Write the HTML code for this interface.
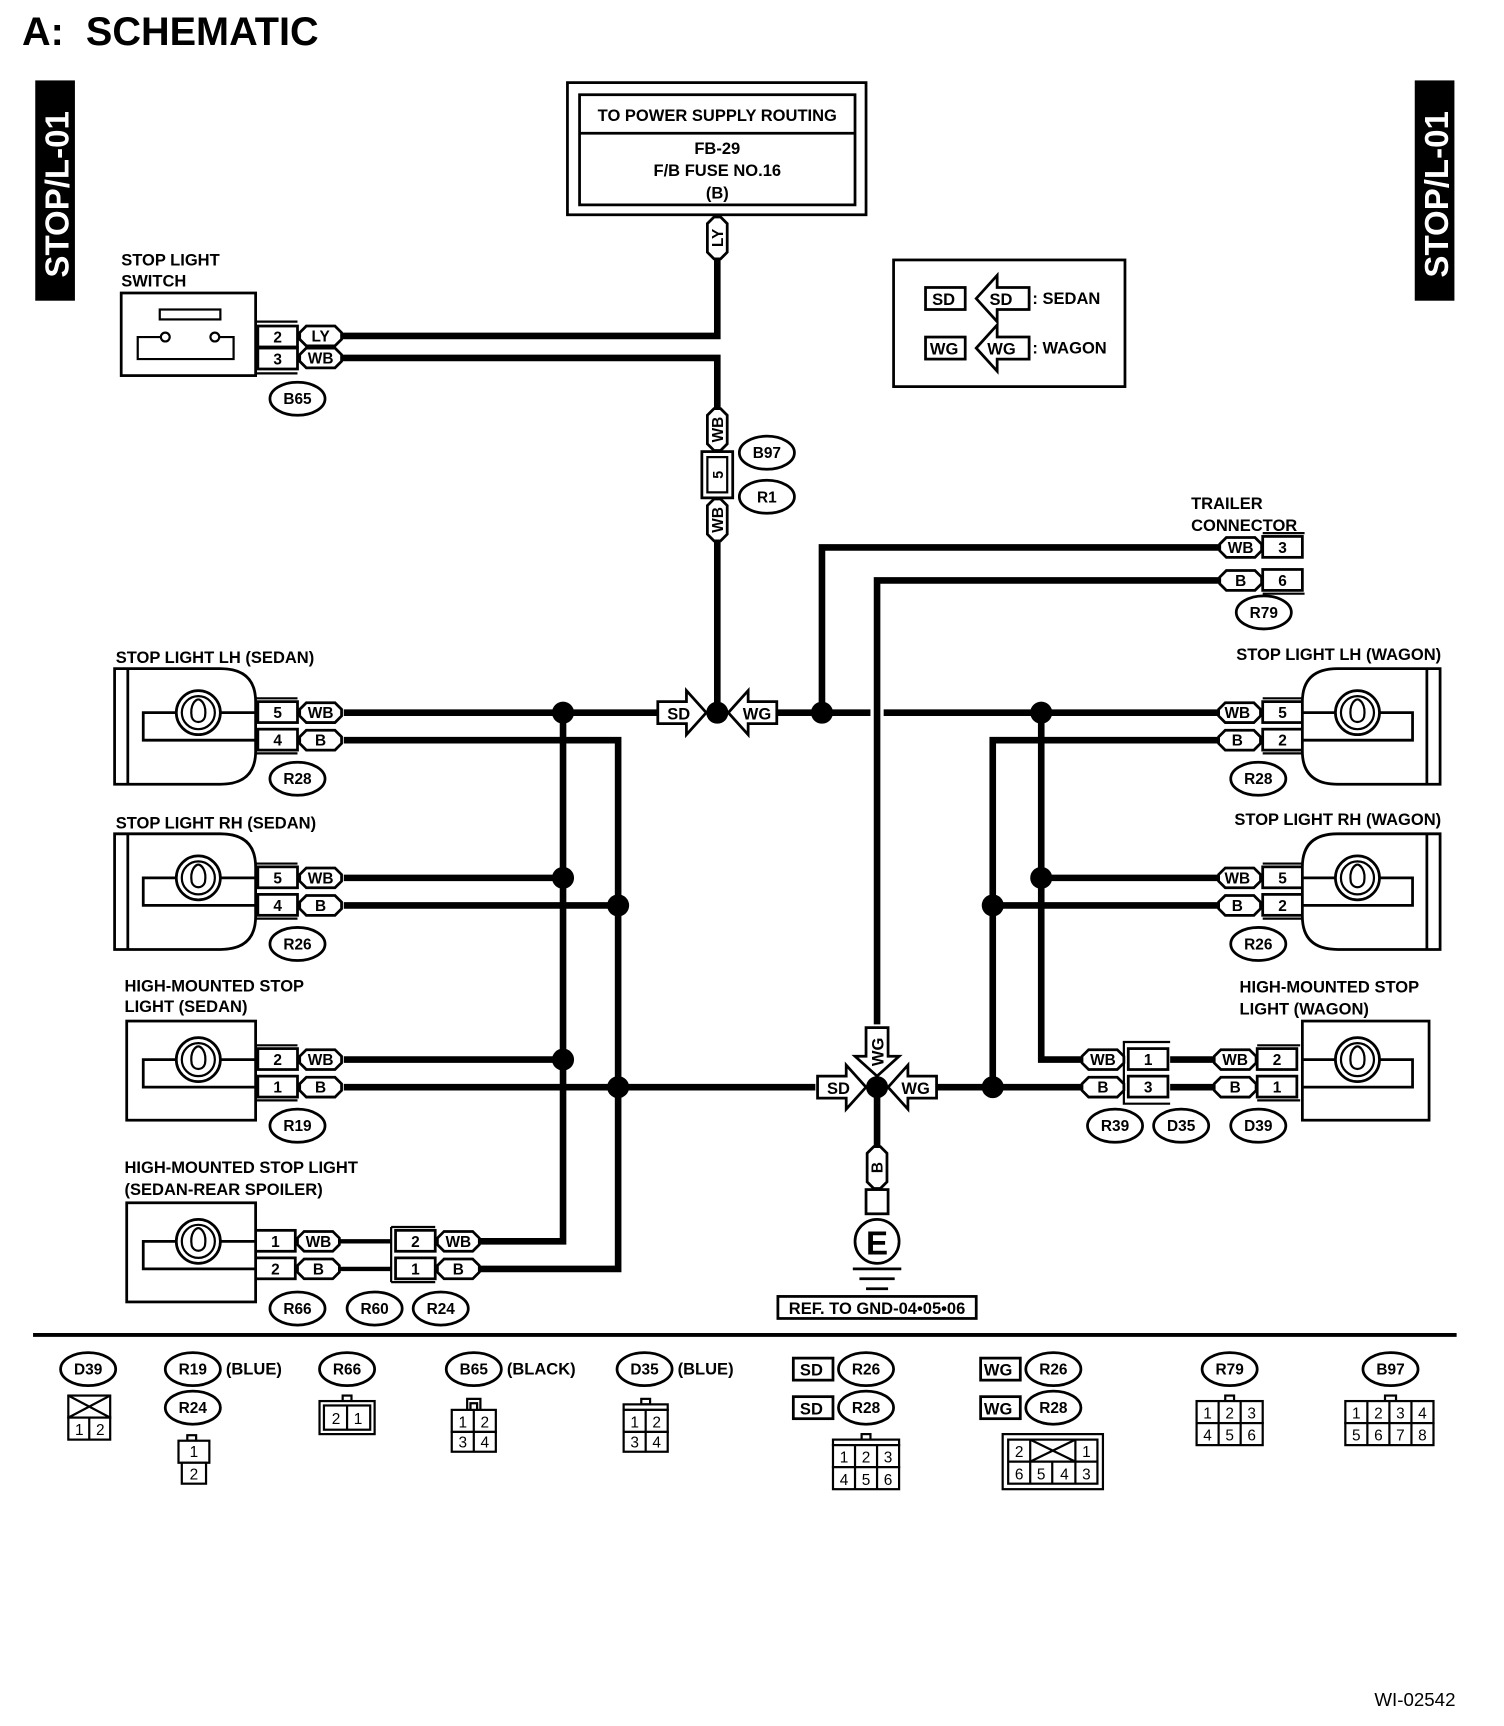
<!DOCTYPE html>
<html><head><meta charset="utf-8"><style>
html,body{margin:0;padding:0;background:#fff}
svg{display:block}
text{font-family:"Liberation Sans",sans-serif;font-weight:bold;fill:#000}
</style></head><body>
<svg width="1504" height="1726" viewBox="0 0 1365 1567" preserveAspectRatio="none" xmlns="http://www.w3.org/2000/svg">
<defs>
<path id="arR" d="M0,0 L-18,-20 L-18,-10 L-44,-10 L-44,10 L-18,10 L-18,20 Z" fill="#fff" stroke="#000" stroke-width="2.5"/>
<path id="pill" d="M-13,-9 L13,-9 L19,-3 L19,3 L13,9 L-13,9 L-19,3 L-19,-3 Z" fill="#fff" stroke="#000" stroke-width="2.5"/>
<ellipse id="ov" rx="25" ry="15" fill="#fff" stroke="#000" stroke-width="2.5"/>
<g id="bulb"><circle r="20" fill="#fff" stroke="#000" stroke-width="2.5"/><circle r="15" fill="none" stroke="#000" stroke-width="2"/><path d="M-6,4 C-8,-8 -2,-12 0,-12 C2,-12 8,-8 6,4 M-6,4 C-4,10 4,10 6,4" fill="none" stroke="#000" stroke-width="2"/></g>
</defs>

<text x="20" y="41" font-size="36" style="white-space:pre" xml:space="preserve">A:  SCHEMATIC</text>
<rect x="32" y="73" width="36" height="200" fill="#000"/>
<text transform="translate(62,252) rotate(-90)" font-size="30" style="fill:#fff">STOP/L-01</text>
<rect x="1284" y="73" width="36" height="200" fill="#000"/>
<text transform="translate(1314,252) rotate(-90)" font-size="30" style="fill:#fff">STOP/L-01</text>

<rect x="515" y="75" width="271" height="120" fill="none" stroke="#000" stroke-width="2.5"/>
<rect x="526" y="86" width="250" height="100" fill="none" stroke="#000" stroke-width="2.5"/>
<line x1="526" y1="121" x2="776" y2="121" stroke="#000" stroke-width="2.5"/>
<g font-size="15" text-anchor="middle">
<text x="651" y="110">TO POWER SUPPLY ROUTING</text>
<text x="651" y="140">FB-29</text>
<text x="651" y="160">F/B FUSE NO.16</text>
<text x="651" y="180">(B)</text>
</g>

<g stroke="#000" stroke-width="6" fill="none">
<path d="M651,235 V305 H310"/>
<path d="M310,325 H651 V372"/>
<path d="M651,490 V647"/>
<path d="M312,647 H597"/>
<path d="M706,647 H790"/>
<path d="M802,647 H1106"/>
<path d="M746,647 V497 H1106"/>
<path d="M796,930 V527 H1106"/>
<path d="M312,672 H561 V1152 H436"/>
<path d="M511,647 V1127 H436"/>
<path d="M312,797 H511"/>
<path d="M312,822 H561"/>
<path d="M312,962 H511"/>
<path d="M312,987 H740"/>
<path d="M850,987 H982"/>
<path d="M1106,672 H901 V987"/>
<path d="M901,822 H1106"/>
<path d="M1106,797 H945"/>
<path d="M945,647 V962 H982"/>
<path d="M1062,962 H1102"/>
<path d="M1062,987 H1102"/>
<path d="M796,987 V1042"/>
<path d="M308,1127 H355 M308,1152 H355" stroke-width="4"/>
</g>
<g fill="#000">
<circle cx="651" cy="647" r="10"/><circle cx="746" cy="647" r="10"/>
<circle cx="511" cy="647" r="10"/><circle cx="511" cy="797" r="10"/><circle cx="511" cy="962" r="10"/>
<circle cx="561" cy="822" r="10"/><circle cx="561" cy="987" r="10"/>
<circle cx="796" cy="987" r="10"/><circle cx="901" cy="987" r="10"/><circle cx="901" cy="822" r="10"/>
<circle cx="945" cy="647" r="10"/><circle cx="945" cy="797" r="10"/>
</g>

<use href="#arR" transform="translate(641,647)"/>
<use href="#arR" transform="translate(661,647) rotate(180)"/>
<use href="#arR" transform="translate(786,987)"/>
<use href="#arR" transform="translate(806,987) rotate(180)"/>
<use href="#arR" transform="translate(796,977) rotate(90)"/>
<g font-size="15" text-anchor="middle">
<text x="616" y="653">SD</text><text x="687" y="653">WG</text>
<text x="761" y="993">SD</text><text x="831" y="993">WG</text>
<text transform="translate(802,955) rotate(-90)" text-anchor="middle">WG</text>
</g>

<g font-size="14" text-anchor="middle">
<use href="#pill" transform="translate(651,216) rotate(90)"/><text transform="translate(656,216) rotate(-90)">LY</text>
<use href="#pill" transform="translate(651,390) rotate(90)"/><text transform="translate(656,390) rotate(-90)">WB</text>
<use href="#pill" transform="translate(651,472) rotate(90)"/><text transform="translate(656,472) rotate(-90)">WB</text>
<use href="#pill" transform="translate(796,1060) rotate(90)"/><text transform="translate(801,1060) rotate(-90)">B</text>
</g>
<rect x="637" y="410" width="28" height="42" fill="#fff" stroke="#000" stroke-width="2.5"/>
<rect x="642" y="415" width="18" height="32" fill="none" stroke="#000" stroke-width="2"/>
<text transform="translate(656,431) rotate(-90)" font-size="13" text-anchor="middle">5</text>

<rect x="786" y="1080" width="20" height="22" fill="#fff" stroke="#000" stroke-width="2.5"/>
<circle cx="796" cy="1127" r="20" fill="#fff" stroke="#000" stroke-width="2.5"/>
<text x="796" y="1139" font-size="30" text-anchor="middle">E</text>
<g stroke="#000" stroke-width="2.5"><line x1="774" y1="1152" x2="818" y2="1152"/><line x1="780" y1="1161" x2="812" y2="1161"/><line x1="786" y1="1170" x2="806" y2="1170"/></g>
<rect x="706" y="1177" width="180" height="20" fill="#fff" stroke="#000" stroke-width="2.5"/>
<text x="796" y="1193" font-size="15" text-anchor="middle">REF. TO GND-04•05•06</text>

<rect x="811" y="236" width="210" height="115" fill="none" stroke="#000" stroke-width="2.5"/>
<g stroke="#000" stroke-width="2.5" fill="#fff">
<rect x="840" y="261" width="36" height="20"/><rect x="840" y="306" width="36" height="20"/>
<path d="M886,271 L905,250 L905,261 L934,261 L934,281 L905,281 L905,292 Z"/>
<path d="M886,316 L905,295 L905,306 L934,306 L934,326 L905,326 L905,337 Z"/>
</g>
<g font-size="15"><text x="846" y="277">SD</text><text x="898" y="277">SD</text><text x="937" y="276">: SEDAN</text>
<text x="844" y="322">WG</text><text x="896" y="322">WG</text><text x="937" y="321">: WAGON</text></g>

<g font-size="15"><text x="110" y="241">STOP LIGHT</text><text x="110" y="260">SWITCH</text></g>
<rect x="110" y="266" width="122" height="75" fill="#fff" stroke="#000" stroke-width="2.5"/>
<rect x="145" y="281" width="55" height="9" fill="none" stroke="#000" stroke-width="2"/>
<path d="M146,306 H125 V326 H212 V306 H199" fill="none" stroke="#000" stroke-width="2"/>
<circle cx="150" cy="306" r="4" fill="#fff" stroke="#000" stroke-width="2"/>
<circle cx="195" cy="306" r="4" fill="#fff" stroke="#000" stroke-width="2"/>

<g stroke="#000" stroke-width="2.5" fill="#fff">
<rect x="234" y="296" width="36" height="19"/><rect x="234" y="316" width="36" height="19"/>
<rect x="234" y="637" width="36" height="19"/><rect x="234" y="662" width="36" height="19"/>
<rect x="234" y="787" width="36" height="19"/><rect x="234" y="812" width="36" height="19"/>
<rect x="234" y="952" width="36" height="19"/><rect x="234" y="977" width="36" height="19"/>
<rect x="232" y="1117" width="36" height="19"/><rect x="232" y="1142" width="36" height="19"/>
<rect x="359" y="1117" width="36" height="19"/><rect x="359" y="1142" width="36" height="19"/>
<rect x="1146" y="487" width="36" height="19"/><rect x="1146" y="517" width="36" height="19"/>
<rect x="1146" y="637" width="36" height="19"/><rect x="1146" y="662" width="36" height="19"/>
<rect x="1146" y="787" width="36" height="19"/><rect x="1146" y="812" width="36" height="19"/>
<rect x="1141" y="952" width="36" height="19"/><rect x="1141" y="977" width="36" height="19"/>
<rect x="1024" y="952" width="36" height="19"/><rect x="1024" y="977" width="36" height="19"/>
</g>
<g stroke="#000" stroke-width="2" fill="none">
<path d="M232,292 H270 M232,339 H270"/><path d="M232,634 H270 M232,684 H270"/><path d="M232,784 H270 M232,834 H270"/>
<path d="M232,949 H270 M232,999 H270"/><path d="M355,1114 H395 M355,1164 H395 M355,1114 V1164"/>
<path d="M1146,484 H1184 M1146,539 H1184"/><path d="M1146,634 H1184 M1146,684 H1184"/><path d="M1146,784 H1184 M1146,834 H1184"/>
<path d="M1141,949 H1180 M1141,999 H1180"/><path d="M1062,946 H1020 V1002 H1062"/>
</g>
<g font-size="14" text-anchor="middle">
<text x="252" y="311">2</text><text x="252" y="331">3</text>
<text x="252" y="652">5</text><text x="252" y="677">4</text>
<text x="252" y="802">5</text><text x="252" y="827">4</text>
<text x="252" y="967">2</text><text x="252" y="992">1</text>
<text x="250" y="1132">1</text><text x="250" y="1157">2</text>
<text x="377" y="1132">2</text><text x="377" y="1157">1</text>
<text x="1164" y="502">3</text><text x="1164" y="532">6</text>
<text x="1164" y="652">5</text><text x="1164" y="677">2</text>
<text x="1164" y="802">5</text><text x="1164" y="827">2</text>
<text x="1159" y="967">2</text><text x="1159" y="992">1</text>
<text x="1042" y="967">1</text><text x="1042" y="992">3</text>
</g>

<g font-size="14" text-anchor="middle">
<use href="#pill" x="291" y="305"/><text x="291" y="310">LY</text>
<use href="#pill" x="291" y="325"/><text x="291" y="330">WB</text>
<use href="#pill" x="291" y="647"/><text x="291" y="652">WB</text>
<use href="#pill" x="291" y="672"/><text x="291" y="677">B</text>
<use href="#pill" x="291" y="797"/><text x="291" y="802">WB</text>
<use href="#pill" x="291" y="822"/><text x="291" y="827">B</text>
<use href="#pill" x="291" y="962"/><text x="291" y="967">WB</text>
<use href="#pill" x="291" y="987"/><text x="291" y="992">B</text>
<use href="#pill" x="289" y="1127"/><text x="289" y="1132">WB</text>
<use href="#pill" x="289" y="1152"/><text x="289" y="1157">B</text>
<use href="#pill" x="416" y="1127"/><text x="416" y="1132">WB</text>
<use href="#pill" x="416" y="1152"/><text x="416" y="1157">B</text>
<use href="#pill" x="1126" y="497"/><text x="1126" y="502">WB</text>
<use href="#pill" x="1126" y="527"/><text x="1126" y="532">B</text>
<use href="#pill" x="1125" y="647"/><text x="1123" y="652">WB</text>
<use href="#pill" x="1125" y="672"/><text x="1123" y="677">B</text>
<use href="#pill" x="1125" y="797"/><text x="1123" y="802">WB</text>
<use href="#pill" x="1125" y="822"/><text x="1123" y="827">B</text>
<use href="#pill" x="1121" y="962"/><text x="1121" y="967">WB</text>
<use href="#pill" x="1121" y="987"/><text x="1121" y="992">B</text>
<use href="#pill" x="1001" y="962"/><text x="1001" y="967">WB</text>
<use href="#pill" x="1001" y="987"/><text x="1001" y="992">B</text>
</g>

<g stroke="#000" stroke-width="2.5" fill="#fff">
<path d="M104,607 H200 Q232,607 232,637 V682 Q232,712 200,712 H104 Z"/><line x1="116" y1="607" x2="116" y2="712"/>
<path d="M104,757 H200 Q232,757 232,787 V832 Q232,862 200,862 H104 Z"/><line x1="116" y1="757" x2="116" y2="862"/>
<rect x="115" y="927" width="117" height="90"/>
<rect x="115" y="1092" width="117" height="90"/>
<path d="M1307,607 H1214 Q1182,607 1182,637 V682 Q1182,712 1214,712 H1307 Z"/><line x1="1295" y1="607" x2="1295" y2="712"/>
<path d="M1307,757 H1214 Q1182,757 1182,787 V832 Q1182,862 1214,862 H1307 Z"/><line x1="1295" y1="757" x2="1295" y2="862"/>
<rect x="1182" y="927" width="115" height="90"/>
</g>
<g stroke="#000" stroke-width="2.5" fill="none">
<path d="M232,647 H130 V672 H232"/><path d="M232,797 H130 V822 H232"/><path d="M232,962 H130 V987 H232"/><path d="M232,1127 H130 V1152 H232"/>
<path d="M1182,647 H1282 V672 H1182"/><path d="M1182,797 H1282 V822 H1182"/><path d="M1182,962 H1282 V987 H1182"/>
</g>
<use href="#bulb" x="180" y="647"/><use href="#bulb" x="180" y="797"/><use href="#bulb" x="180" y="962"/><use href="#bulb" x="180" y="1127"/>
<use href="#bulb" x="1232" y="647"/><use href="#bulb" x="1232" y="797"/><use href="#bulb" x="1232" y="962"/>

<g font-size="15">
<text x="105" y="602">STOP LIGHT LH (SEDAN)</text>
<text x="105" y="752">STOP LIGHT RH (SEDAN)</text>
<text x="113" y="900">HIGH-MOUNTED STOP</text><text x="113" y="919">LIGHT (SEDAN)</text>
<text x="113" y="1065">HIGH-MOUNTED STOP LIGHT</text><text x="113" y="1085">(SEDAN-REAR SPOILER)</text>
<text x="1081" y="462">TRAILER</text><text x="1081" y="482">CONNECTOR</text>
<text x="1308" y="599" text-anchor="end">STOP LIGHT LH (WAGON)</text>
<text x="1308" y="749" text-anchor="end">STOP LIGHT RH (WAGON)</text>
<text x="1125" y="901">HIGH-MOUNTED STOP</text><text x="1125" y="921">LIGHT (WAGON)</text>
</g>

<g font-size="14" text-anchor="middle">
<use href="#ov" x="270" y="362"/><text x="270" y="367">B65</text>
<use href="#ov" x="696" y="411"/><text x="696" y="416">B97</text>
<use href="#ov" x="696" y="451"/><text x="696" y="456">R1</text>
<use href="#ov" x="1147" y="556"/><text x="1147" y="561">R79</text>
<use href="#ov" x="270" y="707"/><text x="270" y="712">R28</text>
<use href="#ov" x="270" y="857"/><text x="270" y="862">R26</text>
<use href="#ov" x="270" y="1022"/><text x="270" y="1027">R19</text>
<use href="#ov" x="270" y="1188"/><text x="270" y="1193">R66</text>
<use href="#ov" x="340" y="1188"/><text x="340" y="1193">R60</text>
<use href="#ov" x="400" y="1188"/><text x="400" y="1193">R24</text>
<use href="#ov" x="1142" y="707"/><text x="1142" y="712">R28</text>
<use href="#ov" x="1142" y="857"/><text x="1142" y="862">R26</text>
<use href="#ov" x="1012" y="1022"/><text x="1012" y="1027">R39</text>
<use href="#ov" x="1072" y="1022"/><text x="1072" y="1027">D35</text>
<use href="#ov" x="1142" y="1022"/><text x="1142" y="1027">D39</text>
</g>

<line x1="30" y1="1212" x2="1322" y2="1212" stroke="#000" stroke-width="3.5"/>
<g font-size="14" text-anchor="middle">
<use href="#ov" x="80" y="1243"/><text x="80" y="1248">D39</text>
<use href="#ov" x="175" y="1243"/><text x="175" y="1248">R19</text>
<use href="#ov" x="175" y="1278"/><text x="175" y="1283">R24</text>
<use href="#ov" x="315" y="1243"/><text x="315" y="1248">R66</text>
<use href="#ov" x="430" y="1243"/><text x="430" y="1248">B65</text>
<use href="#ov" x="585" y="1243"/><text x="585" y="1248">D35</text>
<use href="#ov" x="786" y="1243"/><text x="786" y="1248">R26</text>
<use href="#ov" x="786" y="1278"/><text x="786" y="1283">R28</text>
<use href="#ov" x="956" y="1243"/><text x="956" y="1248">R26</text>
<use href="#ov" x="956" y="1278"/><text x="956" y="1283">R28</text>
<use href="#ov" x="1116" y="1243"/><text x="1116" y="1248">R79</text>
<use href="#ov" x="1262" y="1243"/><text x="1262" y="1248">B97</text>
</g>
<g font-size="15">
<text x="205" y="1248">(BLUE)</text><text x="460" y="1248">(BLACK)</text><text x="615" y="1248">(BLUE)</text>
</g>
<g stroke="#000" stroke-width="2.5" fill="#fff">
<rect x="720" y="1233" width="36" height="20"/><rect x="720" y="1268" width="36" height="20"/>
<rect x="890" y="1233" width="36" height="20"/><rect x="890" y="1268" width="36" height="20"/>
</g>
<g font-size="15"><text x="726" y="1249">SD</text><text x="726" y="1284">SD</text><text x="893" y="1249">WG</text><text x="893" y="1284">WG</text></g>

<g stroke="#000" stroke-width="2" fill="#fff">
<rect x="62" y="1267" width="38" height="20"/><path d="M62,1267 L100,1287 M100,1267 L62,1287"/>
<rect x="62" y="1287" width="38" height="20"/><line x1="81" y1="1287" x2="81" y2="1307"/>
<rect x="170" y="1303" width="8" height="5"/><rect x="162" y="1308" width="28" height="20"/><rect x="165" y="1328" width="22" height="19"/>
<rect x="311" y="1267" width="8" height="5"/><rect x="290" y="1272" width="50" height="30"/><rect x="294" y="1276" width="42" height="22"/><line x1="315" y1="1276" x2="315" y2="1298"/>
<path d="M424,1280 V1270 H436 V1280 M427,1280 V1274 H433 V1280"/><rect x="410" y="1280" width="40" height="20"/><rect x="410" y="1300" width="40" height="18"/><line x1="430" y1="1280" x2="430" y2="1318"/>
<rect x="582" y="1270" width="8" height="5"/><rect x="566" y="1275" width="40" height="5"/><rect x="566" y="1280" width="40" height="20"/><rect x="566" y="1300" width="40" height="18"/><line x1="586" y1="1280" x2="586" y2="1318"/>
<rect x="782" y="1302" width="8" height="5"/><rect x="756" y="1307" width="60" height="5"/><rect x="756" y="1312" width="60" height="20"/><rect x="756" y="1332" width="60" height="20"/><path d="M776,1312 V1352 M796,1312 V1352"/>
<rect x="910" y="1302" width="91" height="50"/><rect x="915" y="1307" width="81" height="40"/><line x1="915" y1="1327" x2="996" y2="1327"/>
<path d="M935,1307 V1327 M976,1307 V1327 M935,1307 L976,1327 M976,1307 L935,1327 M935,1327 V1347 M955,1327 V1347 M976,1327 V1347"/>
<rect x="1112" y="1267" width="8" height="5"/><rect x="1086" y="1272" width="60" height="20"/><rect x="1086" y="1292" width="60" height="20"/><path d="M1106,1272 V1312 M1126,1272 V1312"/>
<rect x="1257" y="1267" width="10" height="5"/><rect x="1221" y="1272" width="80" height="20"/><rect x="1221" y="1292" width="80" height="20"/><path d="M1241,1272 V1312 M1261,1272 V1312 M1281,1272 V1312"/>
</g>
<g font-size="14" text-anchor="middle">
<text x="72" y="1303" style="font-weight:normal">1</text><text x="91" y="1303" style="font-weight:normal">2</text>
<text x="176" y="1323" style="font-weight:normal">1</text><text x="176" y="1343" style="font-weight:normal">2</text>
<text x="305" y="1293" style="font-weight:normal">2</text><text x="325" y="1293" style="font-weight:normal">1</text>
<text x="420" y="1296" style="font-weight:normal">1</text><text x="440" y="1296" style="font-weight:normal">2</text><text x="420" y="1314" style="font-weight:normal">3</text><text x="440" y="1314" style="font-weight:normal">4</text>
<text x="576" y="1296" style="font-weight:normal">1</text><text x="596" y="1296" style="font-weight:normal">2</text><text x="576" y="1314" style="font-weight:normal">3</text><text x="596" y="1314" style="font-weight:normal">4</text>
<text x="766" y="1328" style="font-weight:normal">1</text><text x="786" y="1328" style="font-weight:normal">2</text><text x="806" y="1328" style="font-weight:normal">3</text>
<text x="766" y="1348" style="font-weight:normal">4</text><text x="786" y="1348" style="font-weight:normal">5</text><text x="806" y="1348" style="font-weight:normal">6</text>
<text x="925" y="1323" style="font-weight:normal">2</text><text x="986" y="1323" style="font-weight:normal">1</text>
<text x="925" y="1343" style="font-weight:normal">6</text><text x="945" y="1343" style="font-weight:normal">5</text><text x="966" y="1343" style="font-weight:normal">4</text><text x="986" y="1343" style="font-weight:normal">3</text>
<text x="1096" y="1288" style="font-weight:normal">1</text><text x="1116" y="1288" style="font-weight:normal">2</text><text x="1136" y="1288" style="font-weight:normal">3</text>
<text x="1096" y="1308" style="font-weight:normal">4</text><text x="1116" y="1308" style="font-weight:normal">5</text><text x="1136" y="1308" style="font-weight:normal">6</text>
<text x="1231" y="1288" style="font-weight:normal">1</text><text x="1251" y="1288" style="font-weight:normal">2</text><text x="1271" y="1288" style="font-weight:normal">3</text><text x="1291" y="1288" style="font-weight:normal">4</text>
<text x="1231" y="1308" style="font-weight:normal">5</text><text x="1251" y="1308" style="font-weight:normal">6</text><text x="1271" y="1308" style="font-weight:normal">7</text><text x="1291" y="1308" style="font-weight:normal">8</text>
</g>

<text x="1321" y="1549" font-size="17" text-anchor="end" style="font-weight:normal">WI-02542</text>
</svg>
</body></html>
